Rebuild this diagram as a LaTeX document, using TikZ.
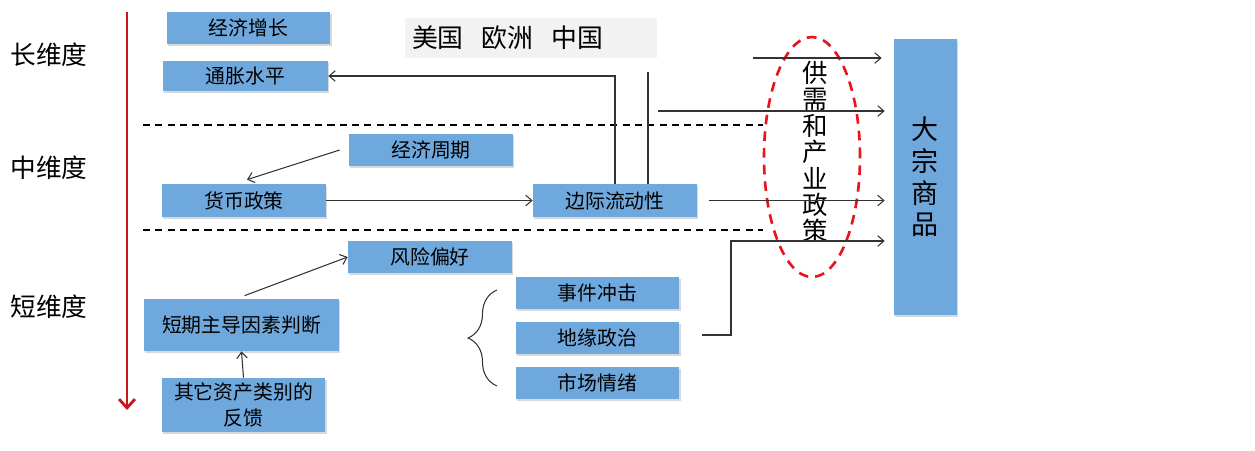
\documentclass[tikz,border=0pt]{standalone}
\usepackage{fontspec}
\setmainfont{Noto Sans CJK SC}
\usepackage{xcolor}
\usetikzlibrary{arrows.meta,calc,decorations.pathreplacing,shapes.geometric,shadows}
\definecolor{boxblue}{HTML}{6FA8DC}
\definecolor{linegray}{HTML}{333333}
\definecolor{axisred}{HTML}{C8161D}
\definecolor{ringred}{HTML}{E8141E}
\definecolor{tagback}{HTML}{F2F2F2}
\tikzset{%
	factor/.style   = {fill=boxblue, rectangle, minimum width=3.28cm, minimum height=0.64cm, inner sep=0pt, text centered, font=\fontsize{11.3}{13}\selectfont, drop shadow={shadow xshift=0.6pt, shadow yshift=-1.2pt, opacity=0.3}},
	dimlabel/.style = {font=\fontsize{14.6}{17}\selectfont},
	arrow/.style    = {line width=0.6pt, draw=linegray, -{Straight Barb[length=3.5pt,width=6pt]}},
	link/.style     = {line width=0.6pt, draw=linegray},
	divider/.style  = {line width=1pt, dash pattern=on 4pt off 3pt},
}

\begin{document}
\begin{tikzpicture}[x=0.02cm,y=-0.02cm]
	\useasboundingbox (0,0) rectangle (1255,450);
	% time axis
	\node[dimlabel] (long) at (49,55) {长维度};
	\node[dimlabel] (mid) at (49,168) {中维度};
	\node[dimlabel] (short) at (49,307) {短维度};
	\coordinate (axtop) at (127,12);
	\coordinate (axbot) at (127,410);
	\draw[axisred, line width=1.6pt, -{Straight Barb[length=5pt,width=9pt]}] (axtop) -- (axbot);
	\draw[divider] (143,125) -- (763,125);
	\draw[divider] (143,230) -- (763,230);
	
	\node[fill=tagback, minimum height=0.8cm, inner xsep=0.14cm, text width=4.76cm, align=left, font=\fontsize{14.7}{17}\selectfont] (region) at (531,38) {美国\hspace{0.7em}欧洲\hspace{0.7em}中国};
	
	\node[factor] (growth) at (248.5,28) {经济增长};
	\node[factor, minimum width=3.3cm, minimum height=0.6cm] (infl) at (245.5,76) {通胀水平};
	\node[factor] (cycle) at (431,150) {经济周期};
	\node[factor, minimum height=0.66cm] (money) at (244,200.5) {货币政策};
	\node[factor, minimum height=0.66cm] (liq) at (615,200.5) {边际流动性};
	\node[factor] (risk) at (430,257) {风险偏好};
	\node[factor, minimum width=3.9cm, minimum height=1.04cm] (judge) at (241.5,325) {短期主导因素判断};
	\node[factor, minimum height=1.08cm, align=center, font=\fontsize{11.3}{14.7}\selectfont] (feedback) at (243.5,405) {其它资产类别的\\反馈};
	\node[factor] (event) at (597.5,293) {事件冲击};
	\node[factor] (geo) at (597.5,338) {地缘政治};
	\node[factor] (mood) at (597.5,383) {市场情绪};
	\node[factor, minimum width=1.26cm, minimum height=5.52cm, align=center, font=\fontsize{15.4}{18.1}\selectfont] (cmdty) at (925.5,177) {大\\宗\\商\\品};
	
	\node[ellipse, draw=ringred, line width=1.5pt, dash pattern=on 5.5pt off 4pt, minimum width=1.92cm, minimum height=4.8cm] (ring) at (812,157) {};
	\node[align=center, font=\fontsize{14.5}{15}\selectfont] (policy) at (815,152) {供\\需\\和\\产\\业\\政\\策};
	
	% links
	\draw[arrow] ($(cycle.west)+(-9,0)$) -- ($(money.north)+(3,-4)$);
	\draw[arrow] (money.east) -- (liq.west);
	\draw[arrow] (liq.north) |- (infl.east);
	\coordinate (liqtop) at (648,72);
	\draw[link] (liq.north -| liqtop) -- (liqtop);
	\coordinate (src1) at (753,58);
	\coordinate (src2) at (658,111);
	\draw[arrow, shorten >=0.24cm] (src1) -- (cmdty.west |- src1);
	\draw[arrow, shorten >=0.18cm] (src2) -- (cmdty.west |- src2);
	\draw[arrow, shorten <=0.24cm, shorten >=0.18cm] (liq.east) -- (cmdty.west |- liq.east);
	\coordinate (bend) at (731,241);
	\draw[arrow, shorten >=0.18cm] ($(geo.east)+(22,-3)$) -| (bend) -- (cmdty.west |- bend);
	\draw[arrow] ($(judge.north)+(3,-3)$) -- (risk.west);
	\draw[arrow] (feedback.north) -- (judge.south);
	\coordinate (brbot) at (497,386);
	\coordinate (brtop) at (497,290);
	\draw[link, decorate, decoration={brace, amplitude=0.58cm}] (brbot) -- (brtop);
	
\end{tikzpicture}
\end{document}
